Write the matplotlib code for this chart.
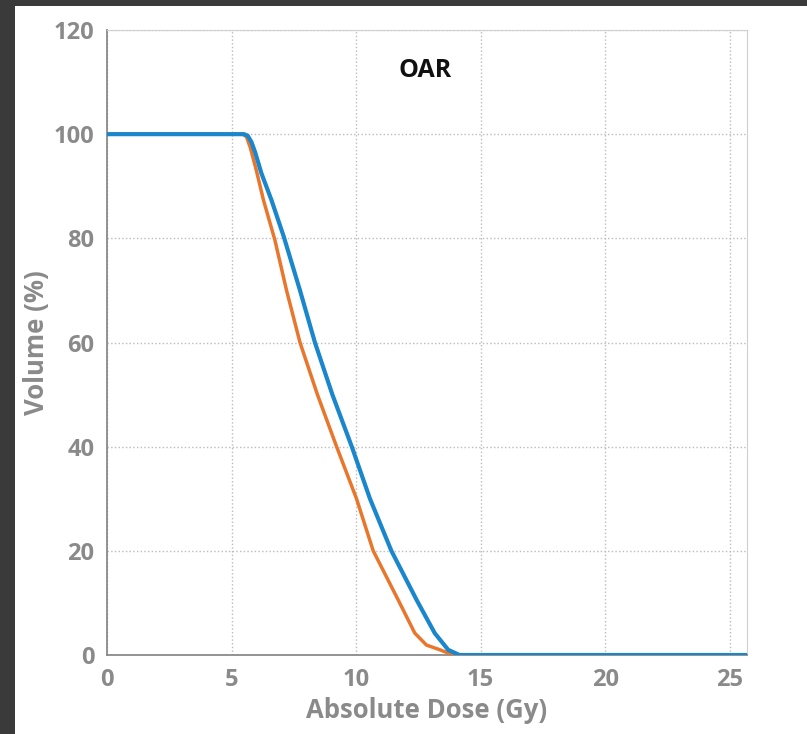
import matplotlib.pyplot as plt
from matplotlib.patches import Rectangle

# dose-volume histogram
dose_blue = [0, 5.5, 5.65, 5.8, 5.95, 6.2, 6.6, 7.1, 7.75, 8.35, 9.05, 9.83, 10.56, 11.42,
             12.43, 13.16, 13.7, 14.15, 25.7]
vol_blue = [100, 100, 99.7, 98.5, 96.5, 92.5, 87.4, 80.3, 70, 60, 50, 40, 30, 20,
            10.6, 4.2, 1, 0, 0]

dose_orange = [0, 5.45, 5.6, 5.75, 6.0, 6.28, 6.74, 7.21, 7.75, 8.45, 9.22, 10.02, 10.69,
               11.69, 12.36, 12.83, 13.37, 13.9, 25.7]
vol_orange = [100, 100, 99.5, 97.5, 93, 87.4, 79.7, 70, 60, 50, 40, 30, 20,
              10.6, 4.2, 1.9, 1, 0, 0]

xticks = [0, 5, 10, 15, 20, 25]
yticks = [0, 20, 40, 60, 80, 100, 120]

fig = plt.figure(figsize=(8.07, 7.34), dpi=100, facecolor='white')
# dark frame on the left and top
dark = '#3a3a3a'
fig.add_artist(Rectangle((0, 0), 15/807, 1, transform=fig.transFigure,
                         facecolor=dark, edgecolor='none'))
fig.add_artist(Rectangle((0, 1 - 6/734), 1, 6/734, transform=fig.transFigure,
                         facecolor=dark, edgecolor='none'))

ax = fig.add_axes([107/807, 1 - 655/734, 640/807, 625/734])
ax.plot(dose_orange, vol_orange, color='#E8762C', lw=2.5, zorder=3,
        solid_joinstyle='round', solid_capstyle='round')
ax.plot(dose_blue, vol_blue, color='#1A86CC', lw=3.0, zorder=4,
        solid_joinstyle='round', solid_capstyle='round')

ax.set_xlim(0, 25.7)
ax.set_ylim(0, 120)
ax.set_xticks(xticks)
ax.set_yticks(yticks)
ax.grid(True, ls=':', color='#bbbbbb', lw=1)
ax.tick_params(length=0, labelsize=17, labelcolor='#8a8a8a', pad=9)
for lab in ax.get_xticklabels() + ax.get_yticklabels():
    lab.set_fontweight('bold')
    lab.set_family('Open Sans')

for s in ['top', 'right']:
    ax.spines[s].set_color('#cfcfcf')
for s in ['bottom', 'left']:
    ax.spines[s].set_color('#8a8a8a')
    ax.spines[s].set_linewidth(1.3)

ax.set_xlabel('Absolute Dose (Gy)', fontsize=18.5, color='#8a8a8a', fontweight='bold',
              family='Open Sans', labelpad=4)
ax.set_ylabel('Volume (%)', fontsize=18.5, color='#8a8a8a', fontweight='bold',
              family='Open Sans', labelpad=3)
ax.text(12.76, 112.3, 'OAR', ha='center', va='center', fontsize=18, fontweight='bold',
        family='Open Sans', color='#111111')

fig.savefig('out.png', dpi=100)
